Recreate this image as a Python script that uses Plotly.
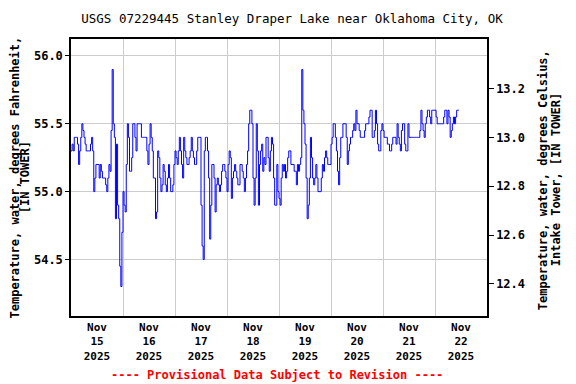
import pandas as pd
import plotly.graph_objects as go

# ---- data (water temperature, deg F, 30-minute readings from Nov 15 00:00) ----
start_time = "2025-11-15 00:00"
interval = "30min"
temp_f = [
    55.3, 55.35, 55.3, 55.4, 55.4, 55.4, 55.35, 55.2, 55.3, 55.4,
    55.5, 55.45, 55.4, 55.35, 55.3, 55.3, 55.3, 55.3, 55.35, 55.4,
    55.3, 55.0, 55.1, 55.2, 55.2, 55.2, 55.1, 55.2, 55.15, 55.1,
    55.1, 55.1, 55.05, 55.0, 55.1, 55.2, 55.15, 55.45, 55.9, 55.5,
    55.4, 54.8, 55.35, 54.9, 54.8, 54.45, 54.3, 54.7, 55.0, 54.9,
    54.85, 55.2, 55.5, 55.4, 55.15, 55.15, 55.25, 55.5, 55.5, 55.4,
    55.3, 55.5, 55.5, 55.5, 55.5, 55.4, 55.4, 55.4, 55.4, 55.4,
    55.3, 55.2, 55.35, 55.5, 55.4, 55.3, 55.1, 55.1, 54.8, 54.85,
    55.3, 55.25, 55.1, 55.0, 55.05, 55.2, 55.15, 55.05, 55.0, 55.1,
    55.2, 55.1, 55.0, 55.0, 55.05, 55.2, 55.3, 55.25, 55.2, 55.3,
    55.4, 55.3, 55.2, 55.1, 55.4, 55.3, 55.25, 55.2, 55.2, 55.25,
    55.3, 55.4, 55.3, 55.25, 55.2, 55.2, 55.3, 55.4, 55.4, 55.4,
    54.9, 54.6, 54.5, 55.3, 55.4, 55.4, 55.3, 55.1, 54.65, 54.9,
    55.2, 55.2, 55.1, 54.85, 55.05, 55.1, 55.05, 55.0, 55.05, 55.15,
    55.2, 55.2, 55.15, 55.1, 55.0, 55.2, 55.3, 55.25, 54.95, 55.1,
    55.15, 55.2, 55.15, 55.1, 55.05, 55.05, 55.2, 55.2, 55.15, 55.1,
    55.0, 55.1, 55.2, 55.3, 55.5, 55.6, 55.6, 55.5, 55.1, 54.9,
    55.1, 55.5, 55.3, 54.9, 55.2, 55.3, 55.35, 55.15, 55.25, 55.2,
    55.4, 55.4, 55.25, 55.15, 55.3, 55.4, 55.35, 55.1, 54.9, 54.9,
    55.2, 55.0, 54.95, 54.9, 55.1, 55.2, 55.15, 55.2, 55.1, 55.15,
    55.25, 55.3, 55.3, 55.2, 55.2, 55.2, 55.15, 55.15, 55.05, 55.2,
    55.15, 55.2, 55.25, 55.9, 55.6, 55.5, 55.35, 55.1, 54.8, 54.9,
    55.1, 55.4, 55.25, 55.1, 55.05, 55.1, 55.2, 55.1, 55.0, 55.0,
    55.0, 55.1, 55.2, 55.15, 55.25, 55.3, 55.25, 55.2, 55.2, 55.2,
    55.35, 55.4, 55.5, 55.5, 55.4, 55.3, 55.15, 55.05, 55.25, 55.4,
    55.4, 55.5, 55.5, 55.5, 55.4, 55.2, 55.3, 55.35, 55.4, 55.4,
    55.45, 55.5, 55.45, 55.6, 55.5, 55.5, 55.45, 55.4, 55.4, 55.4,
    55.4, 55.45, 55.5, 55.5, 55.5, 55.55, 55.6, 55.6, 55.4, 55.4,
    55.45, 55.6, 55.5, 55.35, 55.3, 55.3, 55.45, 55.5, 55.45, 55.4,
    55.4, 55.4, 55.35, 55.35, 55.3, 55.3, 55.35, 55.4, 55.4, 55.4,
    55.35, 55.5, 55.4, 55.35, 55.3, 55.45, 55.5, 55.5, 55.35, 55.3,
    55.3, 55.5, 55.4, 55.4, 55.4, 55.4, 55.4, 55.4, 55.4, 55.4,
    55.4, 55.4, 55.45, 55.6, 55.5, 55.45, 55.4, 55.5, 55.55, 55.6,
    55.6, 55.55, 55.5, 55.6, 55.6, 55.6, 55.6, 55.55, 55.5, 55.5,
    55.5, 55.5, 55.5, 55.5, 55.55, 55.6, 55.6, 55.5, 55.6, 55.55,
    55.4, 55.45, 55.5, 55.55, 55.5, 55.55, 55.6, 55.6, 55.6,
]

tick_dates = ["2025-11-%02d 12:00" % d for d in range(15, 23)]
tick_labels = ["Nov<br>%d<br>2025" % d for d in range(15, 23)]
left_ticks = [54.5, 55.0, 55.5, 56.0]
right_ticks = [12.4, 12.6, 12.8, 13.0, 13.2]
x_range = ["2025-11-15 00:00", "2025-11-23 00:00"]
f_range = [54.083, 56.125]

title_text = "USGS 07229445 Stanley Draper Lake near Oklahoma City, OK"
left_title_lines = ["Temperature, water, degrees Fahrenheit,", "[IN TOWER]"]
right_title_lines = ["Temperature, water, degrees Celsius,", "Intake Tower, [IN TOWER]"]
note_text = "---- Provisional Data Subject to Revision ----"

times = pd.date_range(start_time, periods=len(temp_f), freq=interval)
temp_c = [(v - 32) * 5 / 9 for v in temp_f]
c_range = [(v - 32) * 5 / 9 for v in f_range]

MONO = "DejaVu Sans Mono"

fig = go.Figure()
fig.add_trace(go.Scatter(x=times, y=temp_f, mode="lines", line_shape="hv",
                         line=dict(color="#0000FF", width=1), showlegend=False,
                         hoverinfo="x+y"))
fig.add_trace(go.Scatter(x=times, y=temp_c, mode="lines", yaxis="y2",
                         line=dict(color="rgba(0,0,0,0)", width=0), showlegend=False,
                         hoverinfo="skip"))

bold = dict(family=MONO, size=12, color="black", weight="bold")

annotations = []
for txt, xp in zip(left_title_lines, [-0.1370, -0.111]):
    annotations.append(dict(text=txt, xref="paper", yref="paper", x=xp, y=0.5,
                            textangle=-90, showarrow=False, xanchor="center",
                            yanchor="middle", font=bold))
for txt, xp in zip(right_title_lines, [1.1346, 1.1659]):
    annotations.append(dict(text=txt, xref="paper", yref="paper", x=xp, y=0.49,
                            textangle=-90, showarrow=False, xanchor="center",
                            yanchor="middle", font=bold))
annotations.append(dict(text=note_text, xref="paper", yref="paper", x=0.495, y=-0.213,
                        showarrow=False, xanchor="center", yanchor="middle",
                        font=dict(family=MONO, size=12, color="#FF0000", weight="bold")))

# The page body has an 8px margin, so the figure is sized to fit the 576x384 window.
fig.update_layout(
    width=568, height=376,
    margin=dict(l=63, r=89, t=31, b=68, autoexpand=False),
    paper_bgcolor="white", plot_bgcolor="white",
    title=dict(text=title_text, x=0.5, xanchor="center",
               y=1 - 11 / 376, yanchor="middle",
               font=dict(family=MONO, size=12.5, color="black")),
    font=dict(family=MONO, size=12, color="black"),
    xaxis=dict(
        type="date", range=x_range, automargin=False,
        tickmode="array", tickvals=tick_dates, ticktext=tick_labels,
        showgrid=False, ticks="", zeroline=False,
        showline=True, linecolor="black", linewidth=1.5, mirror=True,
        tickfont=dict(family=MONO, size=11, color="black", weight="bold"),
        minor=dict(dtick=86400000, tick0="2025-11-15", showgrid=True,
                   gridcolor="#CCCCCC", gridwidth=1, ticks=""),
    ),
    yaxis=dict(
        range=f_range, tickmode="array", tickvals=left_ticks, automargin=False,
        tickformat=".1f", showgrid=True, gridcolor="#CCCCCC", gridwidth=1,
        zeroline=False, ticks="outside", ticklen=4, tickcolor="black",
        showline=True, linecolor="black", linewidth=1.5, mirror=True,
        tickfont=bold,
    ),
    yaxis2=dict(
        range=c_range, overlaying="y", side="right", tickmode="array",
        automargin=False,
        tickvals=right_ticks, tickformat=".1f", showgrid=False, zeroline=False,
        ticks="outside", ticklen=5, tickcolor="black",
        showline=True, linecolor="black", linewidth=1.5,
        tickfont=bold,
    ),
    annotations=annotations,
)

fig.write_html("out.html")
